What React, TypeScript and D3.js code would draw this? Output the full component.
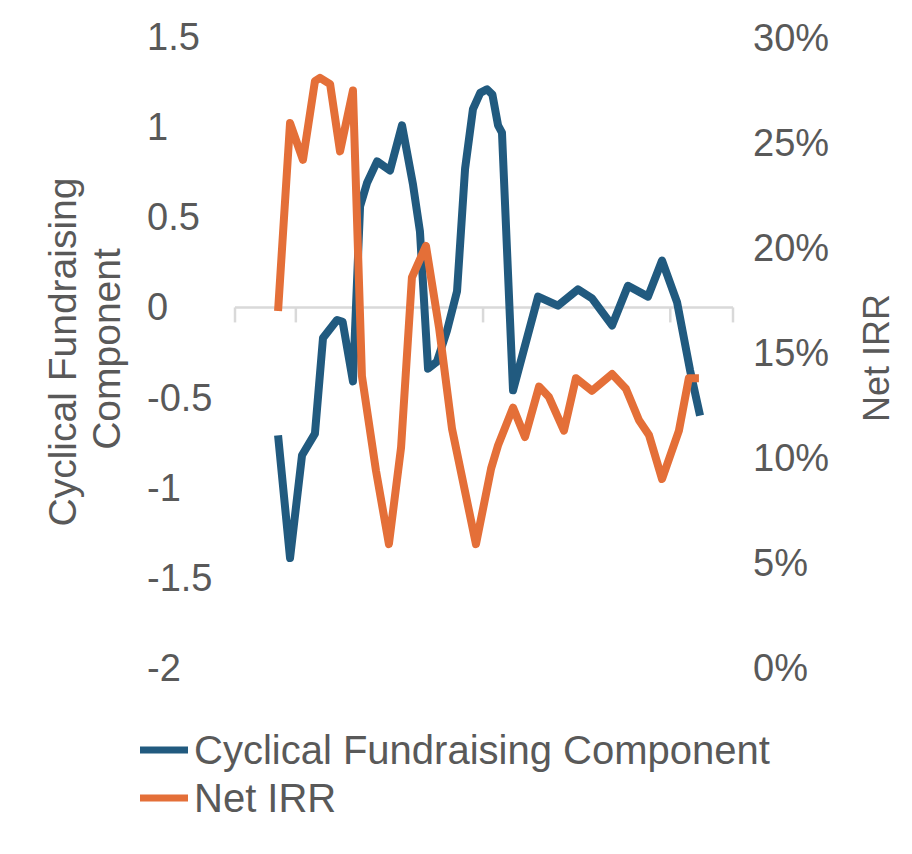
import * as d3 from 'd3';
import React from 'react';

// x position expressed as fractional year
const cyclicalYears = [1989.05, 1989.69, 1990.33, 1991.02, 1991.45, 1992.2, 1992.5, 1993.05, 1993.43, 1993.8, 1994.34, 1995.03, 1995.67, 1996.26, 1996.63, 1997.06, 1997.54, 1998.07, 1998.61, 1999.04, 1999.46, 1999.85, 2000.21, 2000.5, 2000.8, 2001.01, 2001.6, 2002.94, 2004.0, 2005.07, 2005.82, 2006.89, 2007.74, 2008.81, 2009.56, 2010.36, 2011.06, 2011.59];
const cyclicalValues = [-0.71, -1.39, -0.82, -0.7, -0.17, -0.07, -0.08, -0.41, 0.56, 0.69, 0.81, 0.76, 1.01, 0.68, 0.42, -0.34, -0.3, -0.13, 0.09, 0.77, 1.1, 1.19, 1.21, 1.18, 1.01, 0.97, -0.46, 0.06, 0.01, 0.1, 0.05, -0.1, 0.12, 0.06, 0.26, 0.03, -0.35, -0.6];

const irrYears = [1989.05, 1989.69, 1990.38, 1991.02, 1991.29, 1991.83, 1992.36, 1993.05, 1993.53, 1994.28, 1994.97, 1995.62, 1996.2, 1996.95, 1997.65, 1998.34, 1999.62, 2000.43, 2000.8, 2001.6, 2002.24, 2002.99, 2003.52, 2004.32, 2004.96, 2005.82, 2006.89, 2007.63, 2008.33, 2008.86, 2009.56, 2010.46, 2010.99, 2011.53];
const irrValues = [17.0, 25.95, 24.2, 27.95, 28.1, 27.8, 24.6, 27.5, 13.9, 9.4, 5.9, 10.5, 18.6, 20.1, 16.2, 11.4, 5.9, 9.5, 10.6, 12.4, 11.0, 13.4, 12.9, 11.3, 13.8, 13.2, 14.0, 13.3, 11.8, 11.1, 9.0, 11.3, 13.8, 13.8];

const leftTicks = [1.5, 1, 0.5, 0, -0.5, -1, -1.5, -2];
const rightTicks = [30, 25, 20, 15, 10, 5, 0];
const xTicks = [1986.75, 1990, 2000, 2010, 2013.35];

const seriesNames = ['Cyclical Fundraising Component', 'Net IRR'];
const colors = ['#215a7f', '#e46f38'];

const font = "'Liberation Sans', Arial, sans-serif";
const textColor = '#595959';

export default () => {
    const x = d3.scaleLinear().domain([1986.75, 2013.35]).range([235, 733]);
    const yLeft = d3.scaleLinear().domain([-2, 1.5]).range([668, 37]);
    const yRight = d3.scaleLinear().domain([0, 30]).range([668, 38]);

    const blueLine = d3.line<number>()
        .x((d, i) => x(cyclicalYears[i]))
        .y(d => yLeft(d));
    const orangeLine = d3.line<number>()
        .x((d, i) => x(irrYears[i]))
        .y(d => yRight(d));

    return (
        <svg width={912} height={854} style={{ position: 'absolute', left: 0, top: 0 }}>
            <rect width={912} height={854} fill="#fff" />

            {/* category axis */}
            <line x1={x.range()[0]} x2={x.range()[1]} y1={yLeft(0)} y2={yLeft(0)} stroke="#d9d9d9" strokeWidth={2.5} />
            {xTicks.map(t => (
                <line key={t} x1={x(t)} x2={x(t)} y1={yLeft(0)} y2={yLeft(0) + 15} stroke="#d9d9d9" strokeWidth={2.5} />
            ))}

            {/* left axis labels */}
            {leftTicks.map(t => (
                <text key={t} x={147} y={yLeft(t) + 13} fontFamily={font} fontSize={38} fill={textColor}>{t}</text>
            ))}
            {/* right axis labels */}
            {rightTicks.map(t => (
                <text key={t} x={753} y={yRight(t) + 13} fontFamily={font} fontSize={38} fill={textColor}>{t}%</text>
            ))}

            {/* axis titles */}
            <text transform="translate(76, 352) rotate(-90)" textAnchor="middle" fontFamily={font} fontSize={39} fill={textColor}>Cyclical Fundraising</text>
            <text transform="translate(120, 349) rotate(-90)" textAnchor="middle" fontFamily={font} fontSize={39} fill={textColor}>Component</text>
            <text transform="translate(889, 358) rotate(-90)" textAnchor="middle" fontFamily={font} fontSize={36} fill={textColor}>Net IRR</text>

            {/* series */}
            <path d={blueLine(cyclicalValues) || ''} fill="none" stroke={colors[0]} strokeWidth={8} strokeLinejoin="round" />
            <path d={orangeLine(irrValues) || ''} fill="none" stroke={colors[1]} strokeWidth={8} strokeLinejoin="round" />

            {/* legend */}
            {seriesNames.map((name, i) => (
                <g key={name} transform={`translate(140, ${750 + i * 48})`}>
                    <line x1={0} x2={48} y1={0} y2={0} stroke={colors[i]} strokeWidth={7} />
                    <text x={54} y={14} fontFamily={font} fontSize={40} fill={textColor}>{name}</text>
                </g>
            ))}
        </svg>
    );
};
